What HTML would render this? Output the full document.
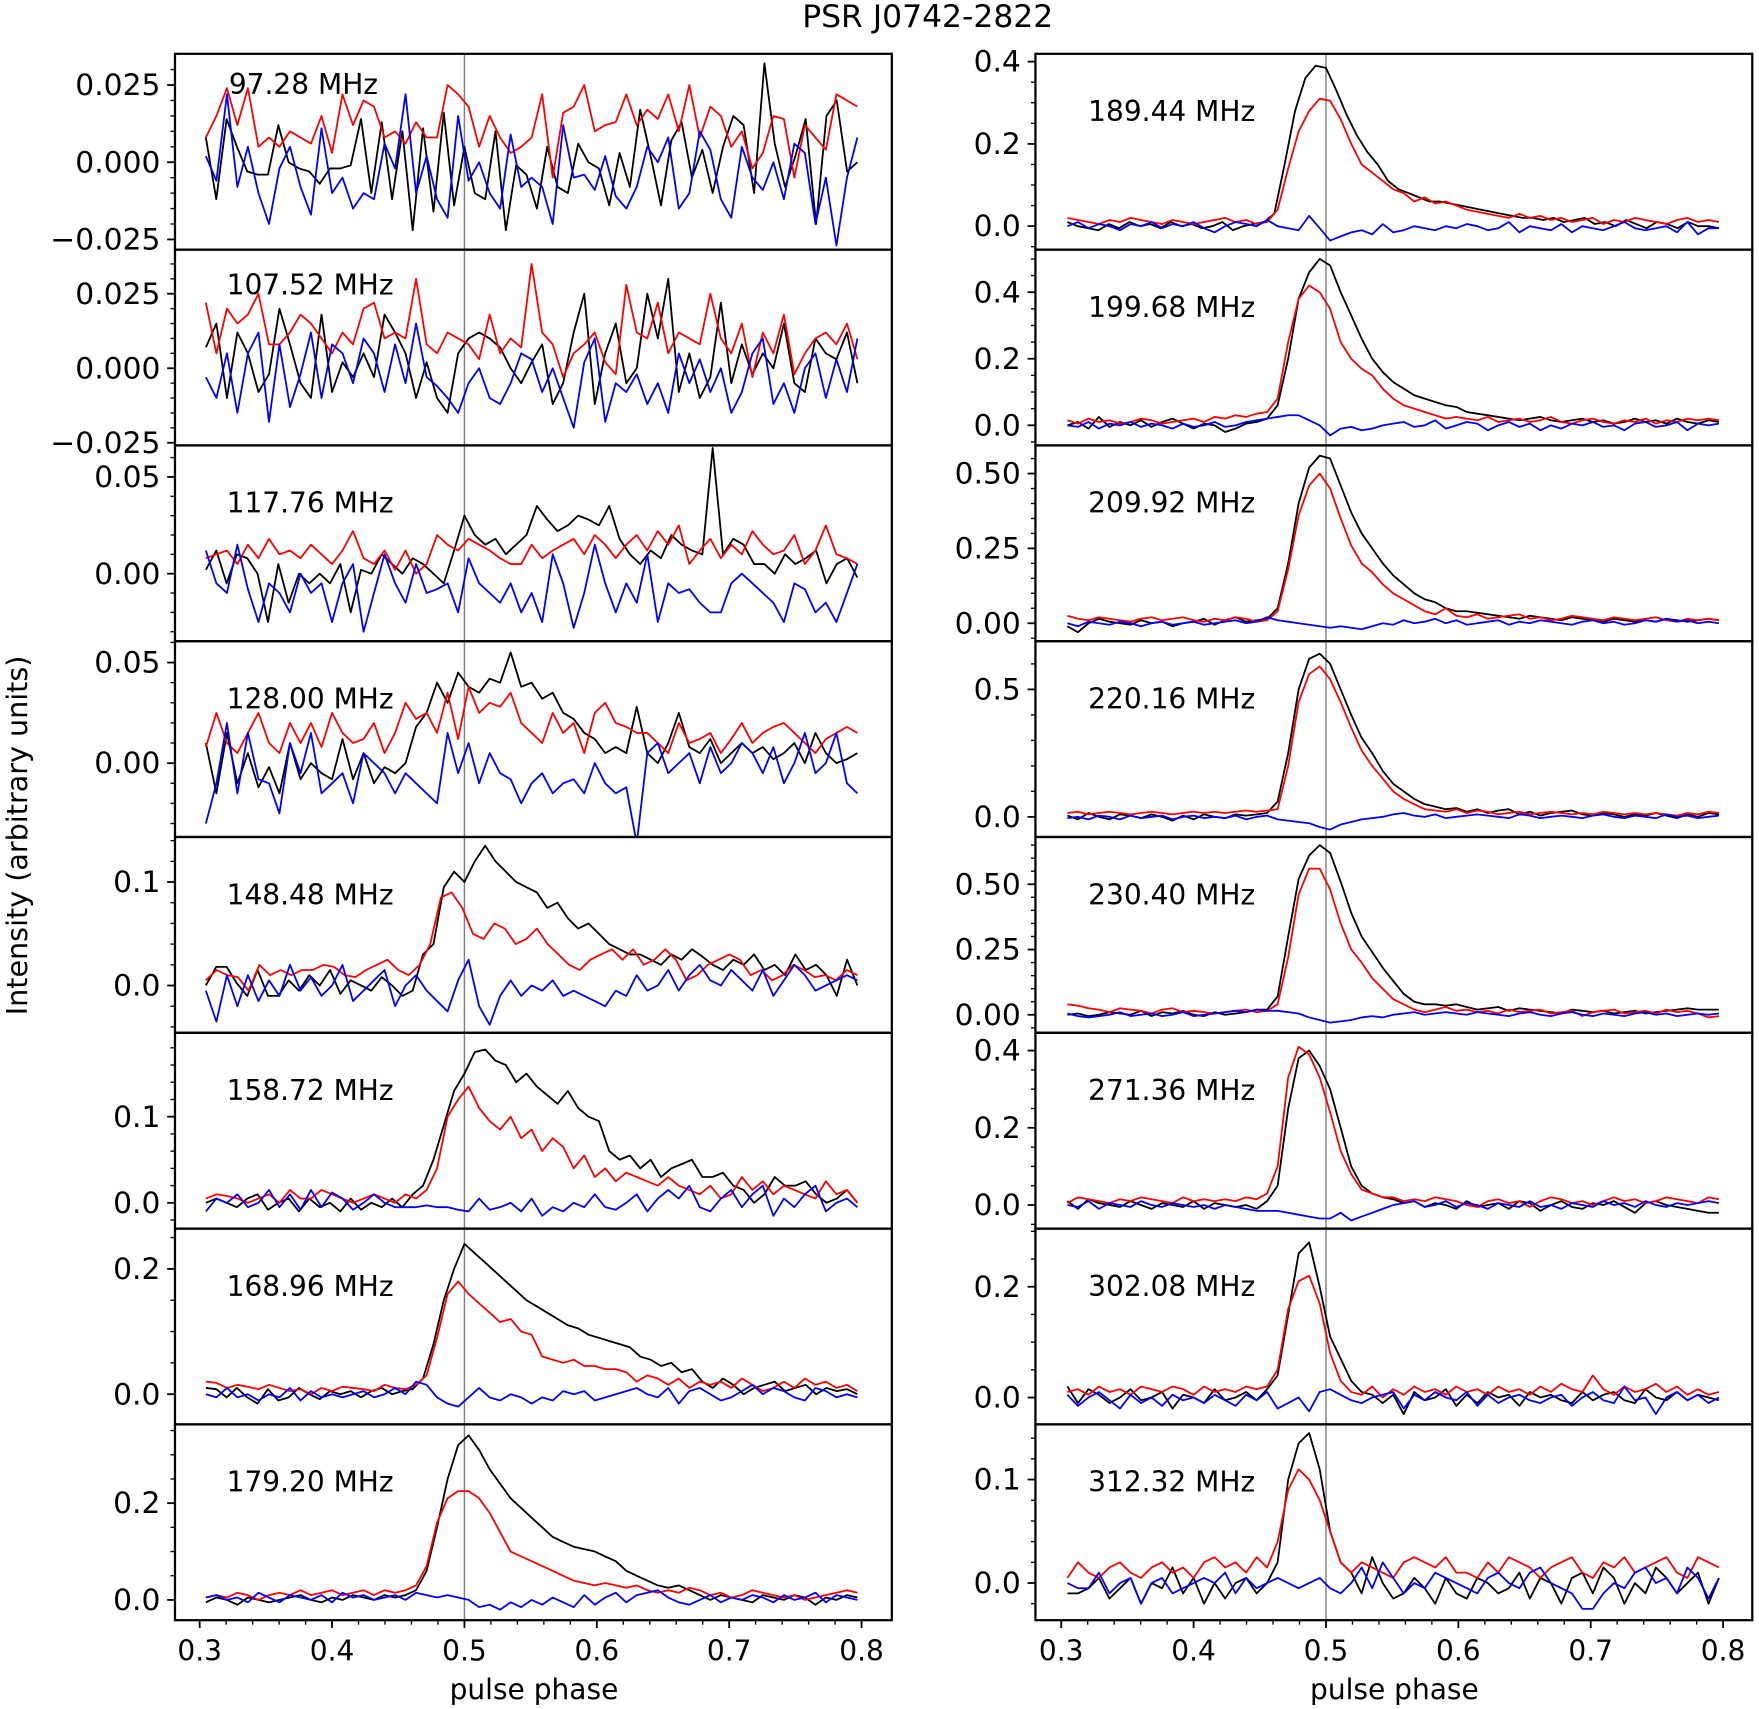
<!DOCTYPE html>
<html><head><meta charset="utf-8"><style>
html,body{margin:0;padding:0;background:#fff;}
svg{display:block;}
text{font-family:"DejaVu Sans","Liberation Sans",sans-serif;fill:#000;}
</style></head><body>
<svg id="chart" xmlns="http://www.w3.org/2000/svg" width="1759" height="1709" viewBox="0 0 1568 1524" preserveAspectRatio="none">
<rect x="0" y="0" width="1568" height="1524" fill="#fff"/>
<text x="827" y="24" font-size="28" text-anchor="middle">PSR J0742-2822</text>
<text x="0" y="0" font-size="25.5" text-anchor="middle" transform="translate(24,745) rotate(-90)">Intensity (arbitrary units)</text>
<text x="476" y="1515" font-size="25" text-anchor="middle">pulse phase</text>
<text x="1243" y="1515" font-size="25" text-anchor="middle">pulse phase</text>
</svg>
<script>
// ---- data (values in units of 0.001) ----
const freqs = ["97.28 MHz","107.52 MHz","117.76 MHz","128.00 MHz","148.48 MHz","158.72 MHz","168.96 MHz","179.20 MHz",
"189.44 MHz","199.68 MHz","209.92 MHz","220.16 MHz","230.40 MHz","271.36 MHz","302.08 MHz","312.32 MHz"];
const yMin = [-0.0283,-0.0259,-0.0349,-0.0367,-0.0457,-0.0299,-0.0482,-0.0419,-0.0571,-0.0605,-0.060,-0.079,-0.069,-0.061,-0.0485,-0.0359];
const yMax = [0.0351,0.0398,0.0663,0.0606,0.1435,0.1974,0.2643,0.3628,0.419,0.528,0.594,0.689,0.681,0.446,0.305,0.1533];
const yTicks = [[0.025,0,-0.025],[0.025,0,-0.025],[0.05,0],[0.05,0],[0.1,0],[0.1,0],[0.2,0],[0.2,0],
[0.4,0.2,0],[0.4,0.2,0],[0.5,0.25,0],[0.5,0],[0.5,0.25,0],[0.4,0.2,0],[0.2,0],[0.1,0]];
const yTickLabels = [["0.025","0.000","\u22120.025"],["0.025","0.000","\u22120.025"],["0.05","0.00"],["0.05","0.00"],["0.1","0.0"],["0.1","0.0"],["0.2","0.0"],["0.2","0.0"],
["0.4","0.2","0.0"],["0.4","0.2","0.0"],["0.50","0.25","0.00"],["0.5","0.0"],["0.50","0.25","0.00"],["0.4","0.2","0.0"],["0.2","0.0"],["0.1","0.0"]];
const yMinorStep = [0.005,0.005,0.01,0.01,0.02,0.02,0.05,0.05,0.05,0.05,0.05,0.1,0.05,0.05,0.05,0.02];
const xTicks = [0.3,0.4,0.5,0.6,0.7,0.8];
const xTickLabels = ["0.3","0.4","0.5","0.6","0.7","0.8"];

const blackData = [
[8,-12,14,5,-3,-4,-4,12,0,-2,-3,-7,-2,-2,-1,14,-10,13,-12,10,-22,11,-16,16,-14,5,-10,-12,10,-22,-1,-4,-15,5,-8,-10,6,0,-2,-14,3,-8,17,2,-14,7,13,-5,4,-10,5,15,12,-10,32,6,-8,2,14,-20,15,20,-3,0],
[7,15,-10,12,5,-8,-2,20,8,-5,-10,18,-8,2,-3,5,-3,18,12,5,-10,2,-10,-15,5,10,12,10,7,0,-5,2,8,-12,-5,12,25,-12,5,15,-5,0,25,10,30,-8,5,-10,-3,22,-5,8,-2,5,0,15,-5,-8,10,5,3,12,-5],
[2,12,-5,10,8,0,-25,5,-15,0,-5,0,-5,5,-20,2,0,10,5,0,8,5,0,-5,12,30,20,15,18,10,15,20,35,28,22,25,30,28,25,35,18,10,5,12,8,20,15,12,10,65,10,18,15,5,5,0,10,5,8,12,-5,5,8,-2],
[10,-15,15,-10,5,-12,-2,-15,10,-8,0,-5,-8,12,-8,5,-10,-2,-5,0,18,25,40,30,45,38,35,42,40,55,38,40,32,35,25,22,15,12,5,8,5,28,5,0,10,25,8,5,12,0,5,10,5,8,2,5,10,0,15,5,0,2,5],
[0,18,18,2,-10,15,-10,-10,5,-5,10,0,15,-8,5,0,-5,8,0,-10,-5,30,40,95,110,100,120,135,120,110,100,95,90,75,80,65,55,60,50,40,35,30,30,25,20,30,25,35,28,20,15,25,20,30,15,20,10,30,15,20,10,-10,25,0],
[0,5,0,-5,5,10,-8,0,5,-10,5,-5,0,-10,5,-8,0,-5,5,-5,10,20,50,90,130,150,175,178,165,160,140,150,135,125,115,130,110,100,95,60,50,55,40,50,30,40,45,50,30,30,35,20,15,0,10,30,20,20,25,10,0,5,15,0],
[10,8,-5,10,-5,-15,8,-10,-5,10,0,-8,5,0,5,-5,5,10,0,5,8,25,80,150,200,240,225,210,195,180,165,150,140,130,120,110,105,95,90,85,80,75,60,55,45,50,35,40,20,10,25,15,0,10,15,20,5,10,15,0,10,5,8,0],
[-5,5,0,-10,5,0,-5,0,5,10,0,-5,5,0,10,5,0,10,5,10,20,60,150,250,320,340,310,270,240,210,190,170,150,130,120,110,105,100,90,80,60,50,40,30,25,30,20,10,0,10,5,0,-5,10,5,0,10,5,-10,5,0,10,5],
[10,0,-5,-10,5,-5,10,0,5,-5,10,0,5,-5,0,10,-10,0,5,10,30,150,280,360,390,385,330,270,220,180,150,110,90,80,70,60,60,55,50,45,40,35,30,25,20,20,15,20,10,15,20,5,10,0,15,5,-5,10,5,-5,10,0,0,-5],
[0,10,-10,25,-5,10,0,15,-5,10,20,5,-10,5,0,-20,-10,5,10,20,60,200,380,460,500,480,400,330,260,200,160,130,110,90,80,70,60,55,40,35,30,25,20,15,20,25,15,10,15,20,10,15,5,10,20,10,15,5,20,10,5,15,10],
[-10,-30,0,15,5,0,-5,10,0,5,-10,0,5,15,-5,10,20,5,10,15,50,200,400,520,560,550,460,370,300,250,200,160,130,100,80,70,50,40,40,35,30,25,20,15,25,20,15,10,20,15,10,5,15,10,5,10,5,15,10,5,10,15,10],
[5,-10,15,0,-10,10,5,-5,10,0,-15,5,-10,10,0,-5,10,5,10,15,60,250,500,620,640,600,500,400,310,250,180,130,100,70,50,40,30,35,20,30,15,25,30,10,20,5,15,20,25,10,5,15,10,0,10,5,15,5,-5,10,0,15,10],
[0,5,-5,0,10,5,0,15,-5,10,5,15,0,-5,10,0,5,10,20,20,70,300,520,610,650,620,510,390,300,240,180,130,80,50,40,40,35,40,30,20,25,30,15,25,20,15,10,5,20,15,10,15,5,10,15,5,10,15,20,25,20,20,20],
[10,-10,15,5,0,-5,10,0,-10,5,0,-5,10,-10,5,0,-5,0,-10,10,50,250,380,400,360,300,200,100,50,30,20,15,5,10,-5,5,0,-10,10,-5,0,5,-10,10,5,-15,0,10,-5,-10,5,0,10,-5,-20,5,10,0,-5,-10,-15,-20,-20],
[20,-10,15,5,-10,0,15,-5,0,10,-20,5,0,-10,15,-5,0,10,-5,15,40,150,260,280,200,110,70,30,10,5,-10,5,-30,10,-5,0,15,-15,5,-10,10,0,5,-15,10,0,5,-5,-10,10,-5,5,10,-5,-10,15,0,-5,10,-5,5,0,-5],
[-10,-10,-5,5,-15,-5,5,-20,0,-5,15,-10,5,-20,0,-15,0,5,-10,0,20,100,135,145,110,50,20,10,-10,25,0,-15,-10,5,-5,-20,5,-10,-15,5,0,-10,-5,10,-15,5,0,-20,5,10,-10,15,5,-20,0,-10,15,5,-10,0,10,-20,5]
];
const redData = [
[8,15,24,12,24,5,8,5,10,8,6,15,3,22,12,20,18,8,10,6,13,8,8,25,22,18,5,15,8,3,5,8,22,-5,16,18,25,10,12,13,22,12,17,14,22,10,25,8,18,15,5,10,-2,3,15,14,-5,12,8,4,22,20,18],
[22,5,20,15,18,25,8,8,12,18,15,10,5,12,8,20,22,10,12,10,30,8,5,12,10,8,3,18,5,10,7,35,12,8,-3,5,8,12,2,-2,28,12,10,22,5,12,10,8,25,10,5,15,-3,12,5,18,-2,5,10,12,8,15,3],
[8,10,12,5,15,8,18,10,12,8,15,10,5,12,22,8,5,12,2,12,0,5,20,15,12,18,15,12,8,5,5,15,8,12,15,18,10,20,15,8,15,20,12,22,15,25,5,12,18,8,15,10,22,15,10,12,20,5,12,25,10,8,5],
[8,25,10,5,15,25,10,5,20,10,20,8,25,15,10,12,20,5,15,30,22,25,15,35,12,38,25,30,28,35,20,15,10,25,15,20,5,25,30,20,18,15,15,10,5,20,10,12,15,5,12,20,10,15,18,20,15,10,5,12,15,18,15],
[5,15,10,8,-5,20,10,15,10,15,15,20,18,10,8,15,20,25,15,10,20,40,85,90,75,50,45,60,55,40,45,55,40,30,20,15,25,30,35,25,35,20,25,35,25,5,10,20,25,30,25,10,15,5,10,20,15,8,10,5,15,10],
[5,10,8,5,0,5,10,0,15,5,5,15,10,5,0,5,10,5,0,10,5,15,40,100,120,135,110,95,85,100,75,85,60,75,65,40,55,30,40,25,35,30,25,20,30,20,15,10,20,5,10,30,15,25,10,20,15,10,5,25,10,15,0],
[20,18,10,15,12,8,15,10,5,8,0,10,5,12,10,8,5,15,10,8,15,30,90,160,180,160,145,130,115,120,100,95,60,55,50,55,45,45,40,40,35,20,30,25,15,25,10,20,15,20,10,25,15,5,10,20,10,25,15,20,10,15,5],
[5,10,5,15,10,0,10,15,10,20,10,15,20,10,15,20,10,20,15,20,30,70,160,210,225,225,210,180,140,100,90,80,70,60,50,40,35,30,35,30,25,30,20,15,20,15,25,20,10,15,5,10,20,15,10,5,10,0,5,10,15,20,15],
[20,15,10,5,15,10,20,15,10,5,15,10,5,10,15,20,10,15,5,10,40,140,230,280,310,305,260,200,150,130,110,90,80,60,70,55,60,50,40,35,30,25,20,30,20,25,15,20,10,15,20,5,15,10,20,15,10,5,15,20,10,15,10],
[15,5,20,10,15,5,10,20,15,5,10,15,20,10,25,20,30,25,35,40,80,250,380,420,400,350,250,200,170,150,110,80,60,50,40,30,20,25,20,15,25,10,15,20,10,15,25,10,5,15,20,10,5,15,10,20,5,15,10,20,15,20,15],
[25,15,10,20,15,10,5,15,20,10,15,20,10,5,15,10,20,15,5,10,40,180,360,460,500,450,350,260,200,170,130,100,80,60,40,30,50,25,20,30,15,20,25,30,15,20,10,15,25,20,15,10,20,15,10,15,20,10,5,15,10,15,10],
[15,20,10,15,20,15,10,15,20,15,10,15,20,15,20,15,20,25,20,25,30,200,450,560,590,540,450,350,260,200,150,100,70,50,30,25,20,30,15,25,20,10,15,20,10,15,20,15,10,15,10,20,15,10,15,10,15,10,5,15,10,20,15],
[40,35,25,20,10,25,20,15,5,20,25,10,15,10,5,10,15,20,10,15,40,220,460,560,560,480,350,250,200,140,100,60,40,20,10,20,30,15,20,10,15,5,20,10,15,20,5,10,15,-5,10,15,20,5,10,15,5,20,10,15,5,-10,-5],
[5,20,15,10,5,15,10,20,15,10,5,20,10,15,10,15,10,20,15,30,100,330,410,390,330,240,140,80,40,30,20,20,10,15,10,20,15,10,0,-5,10,15,5,10,-5,10,20,15,5,10,0,10,20,10,15,5,10,20,15,10,5,20,15],
[10,15,5,20,10,15,5,20,15,10,20,15,5,20,10,15,10,20,15,20,50,160,210,220,170,80,30,10,5,20,0,15,5,20,10,15,5,20,10,15,5,20,10,15,5,20,10,25,15,10,40,15,5,20,10,15,25,10,20,5,15,5,10],
[5,20,10,5,15,20,10,5,15,20,10,15,5,20,25,15,20,10,25,15,40,90,110,100,80,50,20,10,20,15,10,5,20,25,20,15,25,10,10,5,20,10,25,20,15,5,15,20,25,10,5,20,15,25,10,15,20,25,10,5,25,20,15]
];
const blueData = [
[2,-6,22,-8,5,-10,-20,-2,5,-8,-17,11,-10,-5,-15,-10,-12,6,-2,22,-10,2,-12,-18,15,-6,0,-10,-15,9,-8,-5,-8,-20,12,-5,-4,-9,2,-11,-15,-8,5,0,8,-15,-10,10,4,-12,-18,5,-5,-9,0,-12,6,3,-20,-5,-27,-5,8],
[-3,-10,5,-15,5,12,-18,8,-13,-2,12,-10,8,5,-5,10,5,-8,8,-5,15,-3,-6,-10,-15,-5,0,-10,-12,-5,5,3,-8,0,-10,-20,2,10,-18,-5,-8,-2,-12,-5,-15,5,-5,3,-8,0,-15,-8,5,10,-12,-5,-15,0,5,-10,3,-8,10],
[12,-5,-10,15,-8,-25,-5,-10,-20,0,-10,-5,-25,-5,5,-30,-10,10,-5,-15,5,-10,-8,-5,-20,8,-5,-10,-15,-5,-20,-10,-25,10,-5,-28,-10,15,-5,-20,-5,-15,10,-25,-5,-10,-8,-15,-20,-20,-5,0,-5,-10,-15,-25,-5,-8,-20,-15,-25,-10,5],
[-30,-10,20,-15,15,-8,-10,-25,10,-5,15,-15,-10,-5,-20,5,0,-5,-15,-5,-10,-15,-20,15,-5,10,-10,5,-5,-8,-20,-10,-5,-15,-10,-8,-15,0,-10,-15,-12,-40,5,10,-5,0,5,-10,8,-5,0,10,5,-5,8,-10,0,15,-5,0,15,-10,-15],
[-5,-35,10,-20,10,-15,5,-10,20,-5,8,-10,0,20,-15,-5,5,15,-20,0,10,-5,-15,-25,5,25,-20,-38,-10,5,-10,0,-5,5,-10,-5,-10,-15,-20,-5,-10,10,-5,0,15,-5,10,20,5,0,15,5,-5,15,-10,5,20,10,-5,0,5,10,5],
[-10,5,0,10,-5,0,15,-5,10,-8,15,-5,12,5,-8,0,10,0,-5,-5,-5,-3,-5,-5,-8,-10,5,-8,-5,0,-10,5,-15,-5,-10,0,-5,10,-5,-8,0,10,-10,5,15,5,20,-5,-10,5,15,-5,10,20,-15,5,-5,10,20,-10,0,5,-5],
[0,-5,10,-5,0,-10,0,-5,10,-10,5,-5,0,-5,0,5,-5,0,10,0,20,15,-5,-15,-20,-5,10,-5,-10,0,-5,-15,-5,-10,5,0,5,-10,-5,0,5,10,0,-5,10,-15,5,10,0,-10,-5,5,15,0,10,5,-5,-10,10,5,-5,0,-5],
[5,10,0,5,-5,15,5,-5,10,5,0,10,-5,15,5,10,0,5,10,0,15,10,5,10,5,0,-15,-10,-20,-5,-15,0,-10,5,-5,-15,10,-10,5,15,-5,10,15,20,5,-5,-10,0,10,-5,5,0,10,5,-5,10,0,5,15,-5,10,5,0],
[0,10,-5,5,0,-10,5,0,10,-5,5,0,10,-5,-15,0,10,5,0,15,0,-5,-10,25,-5,-35,-25,-15,-10,-20,5,-15,-10,0,-5,-10,0,-5,5,0,-10,-5,10,-15,0,-5,-10,5,-15,0,-5,-10,0,10,-5,-10,-5,0,-15,10,-20,-5,-5],
[0,-5,10,-10,5,0,10,-5,5,0,-10,5,-5,0,10,-5,0,10,15,20,25,30,30,15,0,-30,-10,-5,-15,-10,0,5,10,-5,0,15,-10,0,10,5,-15,0,10,-5,5,-15,0,-10,5,0,10,-5,0,-15,5,10,-5,0,10,-15,5,0,5],
[0,-10,5,0,-5,5,0,-10,0,5,-5,0,5,-5,0,5,10,0,5,20,10,5,0,-5,-10,-15,-10,-15,-20,-10,0,-5,10,0,5,15,0,10,-5,0,5,10,-5,5,0,10,5,0,-5,5,10,0,5,-5,0,10,5,15,5,10,0,5,0],
[-5,0,-10,5,0,-10,5,-5,0,5,-10,0,5,-5,0,-5,5,-10,0,5,-10,-15,-20,-25,-40,-50,-30,-20,-10,-5,0,10,15,5,0,10,-5,0,5,10,5,0,-5,10,5,-5,0,5,0,-5,5,10,0,-5,5,0,-5,10,0,5,-5,0,5],
[5,-5,-10,-5,0,10,-5,0,5,-5,0,10,-5,0,5,10,15,10,20,15,15,10,5,-10,-20,-30,-25,-20,-10,-5,-10,0,5,10,0,5,10,5,0,10,5,0,-5,5,10,0,-5,5,10,0,-5,5,0,-5,5,10,0,5,-5,0,5,0,5],
[0,-5,10,-10,5,0,-5,10,0,-5,5,0,-5,0,-10,0,-5,-10,-15,-15,-15,-20,-25,-30,-35,-35,-20,-40,-30,-20,-10,0,5,10,-5,0,10,-5,5,0,-10,5,0,-5,10,-5,0,-10,5,0,-5,10,0,5,-5,10,0,-5,5,0,5,10,5],
[5,-15,0,10,-5,-20,5,-10,0,-15,5,-5,0,-10,5,-5,-15,5,-5,10,-20,-10,0,-25,10,15,5,-5,-10,0,5,10,-20,5,-5,10,0,-5,10,-15,5,-10,0,5,-5,-10,0,5,-15,0,10,-5,-10,20,-5,0,-30,0,10,-5,5,-10,0],
[0,-5,-5,10,-10,0,5,-20,0,5,-10,-5,0,5,0,10,-10,5,-5,0,5,0,-5,0,5,-5,-10,0,15,-5,20,5,-10,0,-5,10,5,0,-5,-10,5,10,0,-5,10,15,0,-5,-10,-25,-25,-10,0,-5,10,15,0,5,-10,15,5,-15,5]
];

// ---- layout ----
const NS = "http://www.w3.org/2000/svg";
const svg = document.getElementById('chart');
const colX = [[156,795],[923,1562]];
const rowTop = 48, rowH = 174.6;
const xPhase0 = 0.3047, xPhase1 = 0.7969;
function mk(tag, attrs, parent){
  const e = document.createElementNS(NS, tag);
  for (const k in attrs) e.setAttribute(k, attrs[k]);
  (parent||svg).appendChild(e);
  return e;
}
function xScale(col, v){ const x03 = col===0?178:946; return x03 + (v-0.3)*1180; }

for (let p = 0; p < 16; p++){
  const col = p < 8 ? 0 : 1;
  const row = p % 8;
  const L = colX[col][0], R = colX[col][1];
  const T = rowTop + row*rowH, B = T + rowH;
  const ymin = yMin[p], ymax = yMax[p];
  const yS = v => T + (ymax - v)/(ymax - ymin)*rowH;
  const g = mk('g', {});
  
  
  const cp = mk('clipPath', {id:'clip'+p}, g);
  mk('rect', {x:L, y:T, width:R-L, height:rowH}, cp);
  const vl = mk('line', {x1:xScale(col,0.5), x2:xScale(col,0.5), y1:T, y2:B, stroke:'#808080', 'stroke-width':1.3}, g);
  
  
  const series = [[blackData[p],'#000','black'],[redData[p],'#ff0000','red'],[blueData[p],'#0000ff','blue']];
  series.forEach(s => {
    const arr = s[0], n = arr.length;
    let d = '';
    arr.forEach((v,i) => {
      const ph = xPhase0 + i*(xPhase1 - xPhase0)/(n-1);
      d += (i?'L':'M') + xScale(col,ph).toFixed(1) + ',' + yS(v/1000).toFixed(1);
    });
    const path = mk('path', {d:d, fill:'none', stroke:s[1], 'stroke-width':1.6, 'stroke-linejoin':'round', 'clip-path':'url(#clip'+p+')'}, g);
    
    
  });
  const fr = mk('rect', {x:L, y:T, width:R-L, height:rowH, fill:'none', stroke:'#000', 'stroke-width':2}, g);
  
  
  const st = yMinorStep[p];
  for (let v = Math.ceil(ymin/st)*st; v <= ymax + 1e-9; v += st){
    const y = yS(v);
    if (y < T+1 || y > B-1) continue;
    const t = mk('line', {x1:L-4, x2:L, y1:y, y2:y, stroke:'#000', 'stroke-width':1.2}, g);
    
    
  }
  yTicks[p].forEach((v,i) => {
    const y = yS(v);
    const t = mk('line', {x1:L-7, x2:L, y1:y, y2:y, stroke:'#000', 'stroke-width':1.6}, g);
    
    
    const tx = mk('text', {x:L-13, y:y+9, 'font-size':26.5, 'text-anchor':'end'}, g);
    tx.textContent = yTickLabels[p][i];
    
    
  });
  const labY = (row === 0 && col === 0) ? T + 36 : (row === 1 && col === 0 ? T + 40 : T + 60);
  const lab = mk('text', {x: col===0 ? (row===0?204:202) : 970, y: labY, 'font-size':25}, g);
  lab.textContent = freqs[p];
  
  
  if (row === 7){
    for (let k = 0; k <= 25; k++){
      const v = 0.3 + k*0.02;
      const x = xScale(col, v);
      const t = mk('line', {x1:x, x2:x, y1:B, y2:B+4, stroke:'#000', 'stroke-width':1.2}, g);
      
      
    }
    xTicks.forEach((v,i) => {
      const x = xScale(col, v);
      const t = mk('line', {x1:x, x2:x, y1:B, y2:B+7, stroke:'#000', 'stroke-width':1.6}, g);
      
      
      const tx = mk('text', {x:x, y:B+36, 'font-size':25, 'text-anchor':'middle'}, g);
      tx.textContent = xTickLabels[i];
      
      
    });
  }
}
</script>
</body></html>
